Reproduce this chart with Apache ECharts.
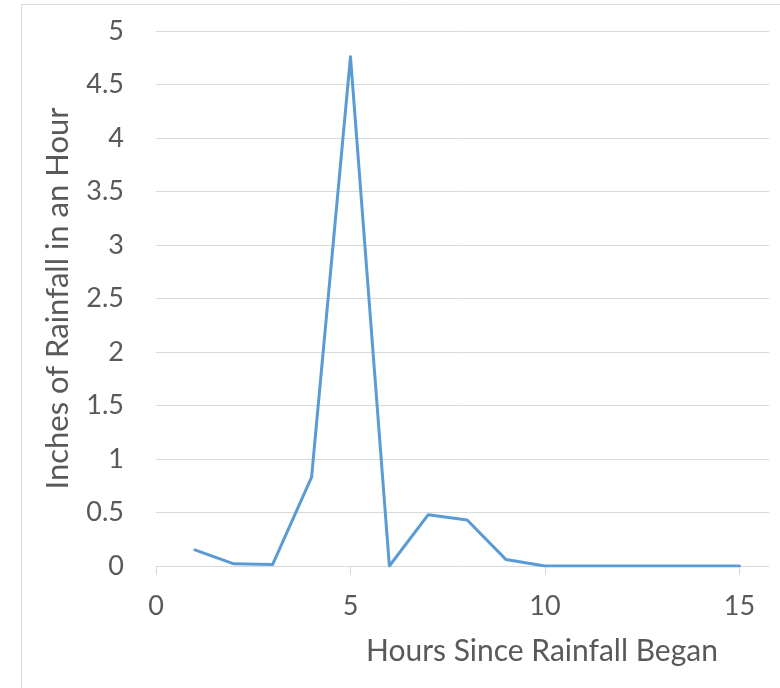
<!DOCTYPE html>
<html>
<head>
<meta charset="utf-8">
<script src="https://cdn.jsdelivr.net/npm/echarts@6/dist/echarts.min.js"></script>
<style>
  html, body { margin: 0; padding: 0; background: #fff; }
  #chart { width: 780px; height: 688px; }
</style>
</head>
<body>
<div id="chart"></div>
<script>
// Hourly rainfall after the storm began
const hours = [1, 2, 3, 4, 5, 6, 7, 8, 9, 10, 11, 12, 13, 14, 15];
const rainfall = [0.15, 0.02, 0.015, 0.83, 4.76, 0, 0.48, 0.43, 0.06, 0, 0, 0, 0, 0, 0];
const xTicks = [0, 5, 10, 15];

const FONT = 'Lato';
const TEXT = '#595959';
const GRID = '#d9d9d9';

const chart = echarts.init(document.getElementById('chart'), null, { renderer: 'canvas' });

chart.setOption({
  backgroundColor: '#ffffff',
  animation: false,
  textStyle: { fontFamily: FONT },
  grid: { left: 156, right: 11, top: 31, bottom: 122, containLabel: false },
  xAxis: {
    type: 'value',
    min: 0,
    max: 15.76,
    axisLine: { show: true, lineStyle: { color: GRID, width: 1 } },
    axisTick: { show: true, customValues: xTicks, length: 9, lineStyle: { color: GRID } },
    axisLabel: { customValues: xTicks, color: TEXT, fontSize: 27, margin: 27, fontFamily: FONT },
    splitLine: { show: false }
  },
  yAxis: {
    type: 'value',
    min: 0,
    max: 5,
    interval: 0.5,
    axisLine: { show: false },
    axisTick: { show: false },
    axisLabel: { color: TEXT, fontSize: 27, margin: 32, fontFamily: FONT },
    splitLine: { show: true, lineStyle: { color: GRID, width: 1 } },
    name: 'Inches of Rainfall in an Hour',
    nameLocation: 'middle',
    nameGap: 83,
    nameRotate: 90,
    nameTextStyle: { color: TEXT, fontSize: 31, fontFamily: FONT }
  },
  graphic: [
    {
      type: 'rect',
      shape: { x: 21.5, y: 4.5, width: 800, height: 700 },
      style: { fill: 'none', stroke: GRID, lineWidth: 1 },
      silent: true
    },
    {
      type: 'text',
      left: 366,
      top: 636,
      style: { text: 'Hours Since Rainfall Began', fill: TEXT, fontSize: 30, fontFamily: FONT }
    }
  ],
  series: [{
    type: 'line',
    data: hours.map((h, i) => [h, rainfall[i]]),
    showSymbol: false,
    symbol: 'none',
    lineStyle: { color: '#5B9BD5', width: 3, cap: 'round', join: 'round' },
    itemStyle: { color: '#5B9BD5' }
  }]
});
</script>
</body>
</html>
